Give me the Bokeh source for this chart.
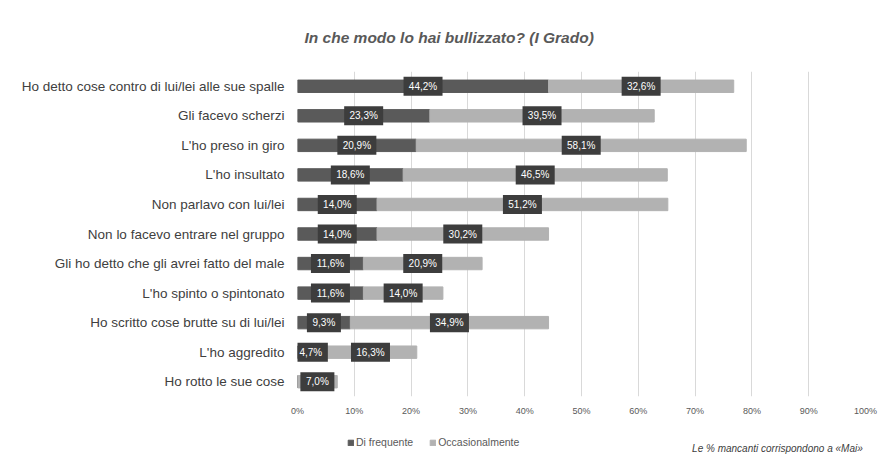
from bokeh.plotting import figure
from bokeh.layouts import column
from bokeh.models import (ColumnDataSource, Range1d, FixedTicker, PrintfTickFormatter,
                          Legend, LegendItem, Label)
from bokeh.core.properties import value
from bokeh.embed import file_html
from bokeh.resources import INLINE

categories = [
    "Ho detto cose contro di lui/lei alle sue spalle",
    "Gli facevo scherzi",
    "L'ho preso in giro",
    "L'ho insultato",
    "Non parlavo con lui/lei",
    "Non lo facevo entrare nel gruppo",
    "Gli ho detto che gli avrei fatto del male",
    "L'ho spinto o spintonato",
    "Ho scritto cose brutte su di lui/lei",
    "L'ho aggredito",
    "Ho rotto le sue cose",
]
frequente = [44.2, 23.3, 20.9, 18.6, 14.0, 14.0, 11.6, 11.6, 9.3, 4.7, 0.0]
occasionalmente = [32.6, 39.5, 58.1, 46.5, 51.2, 30.2, 20.9, 14.0, 34.9, 16.3, 7.0]
series_names = ["Di frequente", "Occasionalmente"]
x_ticks = [0, 10, 20, 30, 40, 50, 60, 70, 80, 90, 100]
title_text = "In che modo lo hai bullizzato? (I Grado)"
note_text = "Le % mancanti corrispondono  a «Mai»"

FONT = "Liberation Sans"
DARK = "#5a5a5a"
LIGHT = "#b2b2b2"
BOX = "#3d3d3d"

n = len(categories)
ys = list(range(n))
ends = [f + o for f, o in zip(frequente, occasionalmente)]

src = ColumnDataSource(dict(y=ys, f=frequente, o_end=ends))

W, H1, H2 = 886, 425, 33
LEFT, RIGHT = 297, 865
p = figure(width=W, height=H1, output_backend="svg", toolbar_location=None,
           x_range=Range1d(0, 100), y_range=Range1d(n - 0.5, -0.5),
           min_border_left=LEFT, min_border_right=W - RIGHT, min_border_top=71,
           min_border_bottom=H1 - 396)
p.outline_line_color = None
p.background_fill_color = "white"
p.border_fill_color = "white"

p.title.text = title_text
p.title.align = "left"
p.title.offset = 7
p.title.text_font = FONT
p.title.text_font_size = "15.5px"
p.title.text_font_style = "bold italic"
p.title.text_color = "#595959"
p.title.standoff = 52

r_f = p.hbar(y="y", left=0, right="f", height=0.42, color=DARK, source=src)
r_o = p.hbar(y="y", left="f", right="o_end", height=0.42, color=LIGHT, source=src)

# data labels
lx, ly, lt, lw = [], [], [], []
for i in range(n):
    for start, v in ((0.0, frequente[i]), (frequente[i], occasionalmente[i])):
        if v > 0:
            t = f"{v:.1f}".replace(".", ",") + "%"
            lx.append(start + v / 2)
            ly.append(i)
            lt.append(t)
            lw.append(14 + 5 * len(t))
lsrc = ColumnDataSource(dict(x=lx, y=ly, t=lt, w=lw))
p.rect(x="x", y="y", width="w", height=19, width_units="screen", height_units="screen",
       fill_color=BOX, line_color=None, source=lsrc)
p.text(x="x", y="y", text="t", text_font=value(FONT), text_font_size="10px",
       text_color="white", text_align="center", text_baseline="middle", source=lsrc)

# axes
p.xaxis.ticker = FixedTicker(ticks=x_ticks)
p.xaxis.formatter = PrintfTickFormatter(format="%d%%")
p.xaxis.axis_line_color = None
p.xaxis.major_tick_line_color = None
p.xaxis.minor_tick_line_color = None
p.xaxis.major_tick_out = 0
p.xaxis.major_tick_in = 0
p.xaxis.major_label_text_font = FONT
p.xaxis.major_label_text_font_size = "9px"
p.xaxis.major_label_text_color = "#595959"
p.xaxis.major_label_standoff = 9

p.yaxis.ticker = FixedTicker(ticks=ys)
p.yaxis.major_label_overrides = {i: c for i, c in enumerate(categories)}
p.yaxis.axis_line_color = None
p.yaxis.major_tick_line_color = None
p.yaxis.minor_tick_line_color = None
p.yaxis.major_tick_out = 0
p.yaxis.major_tick_in = 0
p.yaxis.major_label_text_font = FONT
p.yaxis.major_label_text_font_size = "13.5px"
p.yaxis.major_label_text_color = "#404040"
p.yaxis.major_label_standoff = 13

p.xgrid.grid_line_color = "#d9d9d9"
p.ygrid.grid_line_color = None

# bottom strip: legend and note (frame aligned with the main plot)
p2 = figure(width=W, height=H2, output_backend="svg", toolbar_location=None,
            x_range=Range1d(LEFT, RIGHT), y_range=Range1d(0, H2),
            x_axis_type=None, y_axis_type=None,
            min_border_left=LEFT, min_border_right=W - RIGHT,
            min_border_top=0, min_border_bottom=0)
p2.outline_line_color = None
p2.grid.visible = False
p2.border_fill_color = "white"
d_f = p2.hbar(y="y", left=0, right="f", height=0.42, color=DARK, source=src, visible=False)
d_o = p2.hbar(y="y", left="f", right="o_end", height=0.42, color=LIGHT, source=src,
              visible=False)

legend = Legend(items=[LegendItem(label=series_names[0], renderers=[d_f]),
                       LegendItem(label=series_names[1], renderers=[d_o])],
                orientation="horizontal", location=(347 - LEFT, 10))
legend.glyph_width = 7
legend.glyph_height = 7
legend.label_text_font = FONT
legend.label_text_font_size = "10.5px"
legend.label_text_color = "#595959"
legend.label_standoff = 2
legend.spacing = 16
legend.padding = 0
legend.margin = 0
legend.border_line_color = None
legend.background_fill_alpha = 0
legend.inactive_fill_alpha = 0
p2.add_layout(legend, "center")

p2.add_layout(Label(x=RIGHT, y=H2 - 23, text=note_text, text_align="right",
                    text_baseline="middle", text_font=FONT, text_font_size="10px",
                    text_font_style="italic", text_color="#404040"))

layout = column(p, p2, spacing=0)
open("out.html", "w").write(file_html(layout, INLINE))
